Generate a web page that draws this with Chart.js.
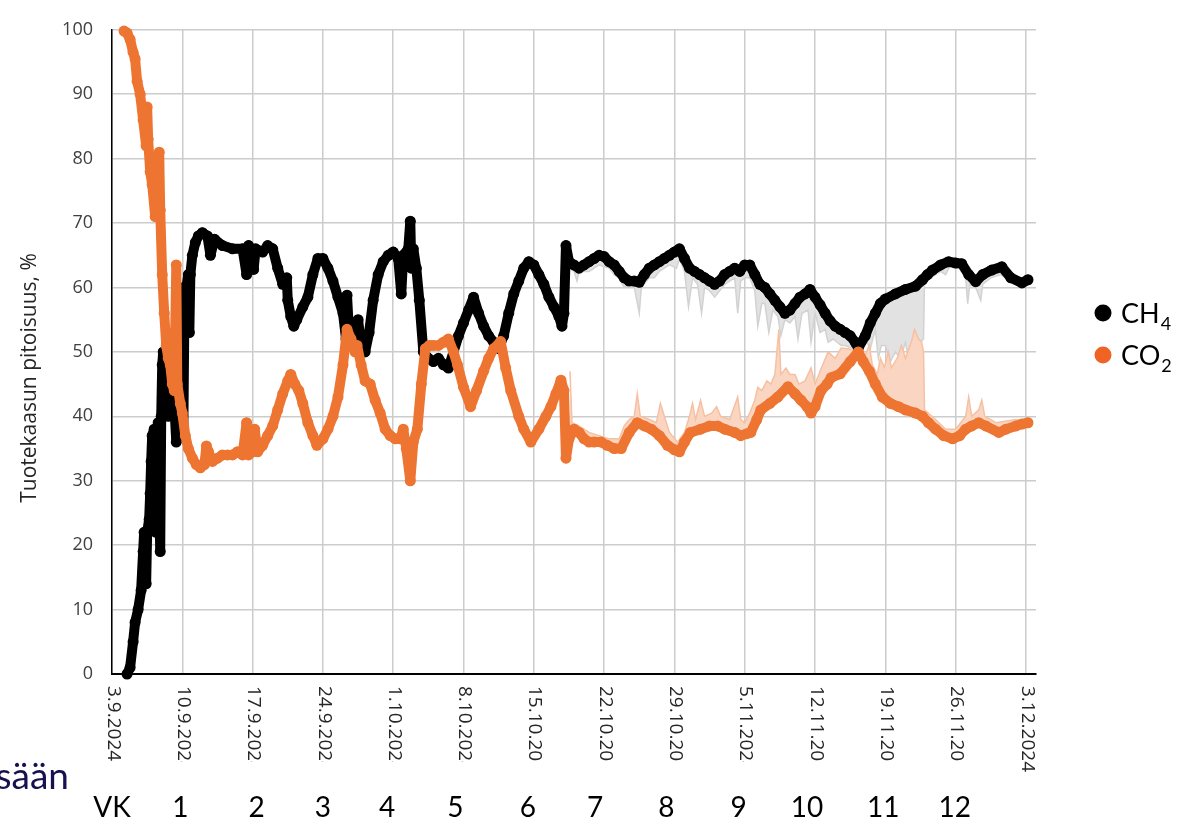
<!DOCTYPE html>
<html>
<head>
<meta charset="utf-8">
<script src="https://cdn.jsdelivr.net/npm/chart.js@4.4.1/dist/chart.umd.min.js"></script>
<style>
  html, body { margin: 0; padding: 0; background: #fff; }
  #wrap { width: 1186px; height: 820px; }
</style>
</head>
<body>
<div id="wrap"><canvas id="gasChart" width="1186" height="820"></canvas></div>
<script>
// days counted from 3.9.2024
const dateLabels = ['3.9.2024', '10.9.2024', '17.9.2024', '24.9.2024', '1.10.2024', '8.10.2024', '15.10.2024',
  '22.10.2024', '29.10.2024', '5.11.2024', '12.11.2024', '19.11.2024', '26.11.2024', '3.12.2024']
const weekLabels = ['1', '2', '3', '4', '5', '6', '7', '8', '9', '10', '11', '12']
const weekAt = [6.8, 14.4, 21.0, 27.4, 34.2, 41.4, 48.1, 55.2, 62.4, 69.2, 76.8, 83.9]

const ch4Day = [1.5, 1.8, 2.1, 2.3, 2.6, 2.9, 3.1, 3.2, 3.4, 3.5, 3.7, 3.8, 3.9, 4.0, 4.2, 4.4, 4.5, 4.6, 4.8, 4.9,
  5.0, 5.1, 5.2, 5.4, 5.6, 5.8, 6.0, 6.2, 6.4, 6.5, 6.7, 6.9, 7.0, 7.1, 7.2, 7.4, 7.6, 7.7, 7.8, 8.0,
  8.3, 8.6, 9.0, 9.5, 9.8, 10.2, 11, 12, 13, 13.4, 13.6, 14.1, 14.3, 15, 15.5, 16, 16.5, 17, 17.4, 17.5,
  17.8, 18.1, 18.4, 19, 19.5, 20, 20.5, 21, 21.5, 22, 22.5, 23, 23.3, 23.4, 23.6, 24, 24.2, 24.5, 24.8, 25.2,
  25.6, 26, 26.5, 27, 27.5, 28, 28.5, 28.8, 29, 29.5, 29.7, 29.8, 30, 30.3, 30.6, 31, 31.5, 32, 32.5, 33,
  33.5, 34, 34.5, 35, 35.5, 36, 36.5, 37, 37.5, 38, 38.5, 39, 39.5, 40, 40.5, 41, 41.5, 42, 42.5, 43,
  43.5, 44, 44.5, 44.8, 45, 45.2, 45.5, 46, 46.5, 47, 47.5, 48, 48.5, 49, 49.5, 50, 50.5, 51, 51.5, 52,
  52.5, 53, 53.5, 54, 54.5, 55, 55.5, 56, 56.5, 57, 57.5, 58, 58.5, 59, 59.5, 60, 60.5, 61, 61.5, 62,
  62.5, 63, 63.5, 64, 64.5, 65, 65.5, 66, 66.5, 67, 67.5, 68, 68.5, 69, 69.5, 70, 70.5, 71, 71.5, 72,
  72.5, 73, 73.5, 74, 74.3, 75, 75.5, 76, 76.5, 77, 78, 79, 80, 80.7, 81.2, 81.7, 82.5, 83.3, 84, 84.6,
  85.3, 86, 86.7, 87.6, 88.6, 89.5, 90.6, 91.2]
const ch4Val = [0, 1, 5, 8, 10, 13, 19, 22, 14, 22, 24, 28, 33, 37, 38, 22, 37, 39, 19, 40,
  48, 50, 41, 44, 40, 46, 50, 42, 36, 55, 60, 48, 39, 37, 55, 60, 62, 53, 62, 65,
  67, 68, 68.5, 68, 65, 67.5, 66.5, 66, 66, 62, 66.5, 62.8, 66, 65.5, 66.5, 66, 63, 60.5, 61.5, 58,
  55.5, 54, 55, 57, 58.5, 62, 64.5, 64.5, 63, 61, 58.5, 56, 52, 58.8, 53, 52, 51.7, 55, 51, 50,
  53, 58, 62, 64, 65, 65.5, 64.5, 59, 65, 66, 70.3, 63, 66, 63, 58, 50, 49, 48.5, 49, 48,
  47.5, 50, 52.5, 54.5, 56.5, 58.5, 56, 54, 52.5, 51.5, 50.5, 52.5, 56, 59, 61, 63, 64, 63.5, 62, 60.5,
  58.5, 57, 55.5, 54, 56, 66.5, 64, 63.5, 63, 63.5, 64, 64.5, 65, 64.8, 64, 63.5, 62.5, 61.5, 61, 61,
  60.8, 62, 63, 63.5, 64, 64.5, 65, 65.5, 66, 64.5, 63, 62.5, 62, 61.5, 61, 60.5, 61, 62, 62.5, 63,
  62.5, 63.5, 63.5, 62, 60.5, 60, 59, 58, 57, 56, 56.5, 57.5, 58.5, 59, 59.7, 58.5, 57.3, 56, 54.8, 54,
  53.5, 53, 52.5, 51.5, 50.6, 52.5, 54.5, 56, 57.5, 58.2, 59, 59.7, 60.2, 61.2, 62, 62.7, 63.5, 64, 63.8, 63.7,
  62, 60.9, 62, 62.7, 63.2, 61.5, 60.7, 61.2]

const co2Day = [1.2, 1.5, 1.8, 2.1, 2.3, 2.5, 2.8, 3.1, 3.4, 3.5, 3.6, 3.8, 4.0, 4.3, 4.5, 4.7, 4.8, 5.0, 5.2, 5.4,
  5.6, 5.8, 6.0, 6.2, 6.4, 6.5, 6.8, 7.0, 7.3, 7.6, 8.0, 8.4, 8.8, 9.2, 9.4, 9.6, 10, 10.5, 11, 11.5,
  12, 12.5, 13, 13.4, 13.6, 14, 14.2, 14.5, 15, 15.5, 16, 16.5, 17, 17.5, 17.8, 18.2, 18.6, 19, 19.5, 20,
  20.4, 21, 21.5, 22, 22.5, 23, 23.4, 23.8, 24.2, 24.4, 24.8, 25.2, 25.7, 26.2, 26.7, 27.2, 27.7, 28.2, 28.7, 29,
  29.3, 29.7, 30, 30.4, 30.8, 31.2, 31.6, 32, 32.5, 33, 33.5, 34, 34.4, 35, 35.7, 36.3, 37, 37.5, 38, 38.7,
  39.2, 39.7, 40.5, 41, 41.7, 42.5, 43.2, 43.7, 44.2, 44.7, 45.0, 45.2, 45.5, 46, 46.5, 47, 47.5, 48, 48.7, 49.3,
  50, 50.7, 51.5, 52.3, 53, 53.7, 54.5, 55.3, 56, 56.5, 57, 57.6, 58.6, 59.5, 60.3, 61, 62, 62.6, 63.2, 63.6,
  64.2, 64.6, 65.5, 66.3, 67.3, 68, 68.6, 69.2, 69.6, 70, 70.6, 71.2, 71.6, 72.5, 73.5, 74.3, 74.8, 75.4, 76, 76.7,
  77.5, 78.3, 79, 80, 80.7, 81.3, 82, 82.8, 83.7, 84.4, 85, 85.6, 86.3, 87, 88.3, 89, 90, 90.6, 91.2]
const co2Val = [99.8, 99.5, 98.5, 96.5, 95.5, 92, 90, 86, 82, 88, 83, 78, 76, 71, 78, 81, 72, 62, 56, 51,
  49, 48, 45, 44, 63.5, 45, 42, 40.5, 37, 35, 33.5, 32.5, 32, 32.5, 35.4, 34.5, 33, 33.5, 34, 34,
  34, 34.5, 34, 39, 34, 34.5, 38, 34.5, 35.5, 37, 38.5, 41, 43.5, 45.5, 46.5, 45, 44, 42, 39, 37,
  35.5, 36.5, 38, 40, 43, 48, 53.5, 52, 50, 51, 48, 45.5, 45, 42.5, 40.5, 38, 37, 36.5, 36.5, 38,
  35, 30, 36, 38, 45, 50.5, 51, 51, 51, 51.5, 52, 50, 48, 44.5, 41.5, 44, 47, 49, 50.5, 51.6,
  47.5, 44, 40, 38, 36, 38, 40, 41.5, 43.5, 45.6, 44, 33.5, 36.5, 38, 37.5, 36.5, 36, 36, 36, 35.5,
  35, 35, 37.5, 39, 38.5, 38, 37, 35.5, 34.8, 34.5, 36, 37.5, 38, 38.5, 38.5, 38, 37.5, 37, 37.3, 37.5,
  39.5, 41, 42, 43, 44.6, 43.5, 42.5, 41.5, 40.5, 41.5, 44, 45, 46, 46.6, 48.5, 50, 48.5, 47, 45, 43,
  42, 41.5, 41, 40.5, 40, 39, 38, 37, 36.5, 37, 38, 38.5, 39, 38.5, 37.5, 38, 38.5, 38.8, 39]

// lighter scatter of single readings below CH4 and above CO2
const ch4LowDay = [45.5, 46.0, 46.3, 46.5, 47.5, 48.5, 49.5, 50, 50.5, 51, 51.5, 52, 52.5, 52.7, 53.5, 54, 54.5, 55.5, 56.2, 56.5,
  57, 57.4, 57.8, 58.3, 58.7, 59, 59.5, 60, 60.5, 61, 61.5, 62, 62.3, 62.6, 63, 63.5, 64, 64.3, 64.7, 65,
  65.4, 65.8, 66.3, 66.6, 67, 67.5, 68, 68.3, 68.7, 69.3, 69.6, 70, 70.5, 71, 71.3, 71.8, 72.2, 72.6, 73, 73.6,
  74.3, 75, 75.5, 76, 76.3, 76.6, 77, 77.5, 78, 78.5, 79, 79.3, 79.7, 80, 80.5, 80.8, 80.9, 81.5, 82.5, 83,
  83.5, 84.5, 85, 85.2, 85.4, 86, 86.5, 86.7, 87.5, 88.5, 89.5, 91]
const ch4LowVal = [63, 62.5, 61, 62.5, 62.5, 63.5, 63, 62, 61.5, 60, 60.5, 60, 56, 60, 61.5, 61.5, 62.5, 63.5, 63, 64.5,
  62.5, 57, 61.5, 60.5, 56, 60, 59.5, 58.5, 59.5, 60.5, 61, 61.5, 56, 61, 61.5, 61.5, 59.5, 54, 57.5, 57.5,
  53, 56.5, 55.5, 52.5, 55, 54.5, 55.5, 52, 56, 56.5, 51.5, 56, 53, 53.5, 51.5, 52, 51.5, 51, 51, 50.6,
  50.6, 52, 50.5, 53.5, 49, 51, 51, 48.5, 50, 49, 51.5, 49, 52, 50, 51.5, 52, 61, 61.5, 62.5, 62,
  63.5, 63, 61.5, 57.5, 60.5, 60, 58, 60.5, 61.5, 62, 61, 60.5]

const co2HighDay = [45.6, 45.8, 46.5, 47.5, 48.5, 49.5, 50.5, 51, 51.5, 52, 52.3, 52.6, 53.5, 54.2, 54.6, 55.5, 56.3, 57, 57.5, 57.8,
  58.1, 58.6, 59, 59.7, 60.2, 60.6, 61.5, 62.3, 62.6, 63, 63.5, 64, 64.3, 64.7, 65.2, 65.6, 66, 66.4, 66.6, 67.1,
  67.5, 68, 68.4, 69, 69.6, 70, 70.5, 71.3, 72, 72.6, 73.3, 74.3, 75, 75.4, 75.7, 76.2, 76.5, 76.9, 77.3, 77.6,
  78.2, 78.6, 79, 79.6, 79.9, 80.3, 80.6, 80.8, 80.9, 82, 83, 84, 85, 85.3, 85.6, 86.3, 86.6, 86.9, 88, 90, 91]
const co2HighVal = [47, 39, 38.5, 37.5, 37, 36.5, 36.5, 38.5, 39.5, 40, 43.5, 40, 39.5, 39, 42, 37.5, 36, 37.5, 40, 42,
  39.5, 42.5, 40, 40.5, 41.5, 40, 39.5, 43, 39.5, 39, 40.5, 42.5, 44.5, 44, 45.5, 45, 46.5, 53.5, 46.5, 47.5,
  46.5, 46.5, 45, 45.5, 47.5, 45, 47, 50, 49, 50.6, 50.5, 50, 49.5, 51, 48, 46.5, 49, 47.6, 50, 47.5,
  49.1, 51, 49, 51.6, 53.5, 52, 51.6, 50, 41, 39.5, 38, 38, 40, 43, 40, 41, 42.5, 40, 39, 39.5, 39.2]

const pts = (days, vals) => days.map((d, i) => ({ x: d, y: vals[i] }))

const CH4_COLOR = '#000000'
const CO2_COLOR = '#EE7531'

const labelsPlugin = {
  id: 'gasLabels',
  afterDraw(chart) {
    const { ctx } = chart
    const xScale = chart.scales.x

    // date labels under the axis, turned clockwise, cut at a fixed length
    ctx.save()
    ctx.fillStyle = '#262626'
    ctx.font = '19px "Open Sans"'
    ctx.textAlign = 'left'
    ctx.textBaseline = 'middle'
    dateLabels.forEach((label, i) => {
      const px = xScale.getPixelForValue(i * 7)
      ctx.save()
      if (i > 0 && i < dateLabels.length - 1) {
        ctx.beginPath()
        ctx.rect(px - 15, 676, 30, 86)
        ctx.clip()
      }
      ctx.translate(px + 1, 686)
      ctx.rotate(Math.PI / 2)
      ctx.fillText(label, 0, 0)
      ctx.restore()
    })
    ctx.restore()

    // axis title
    ctx.save()
    ctx.fillStyle = '#262626'
    ctx.font = '21px "Open Sans"'
    ctx.textAlign = 'center'
    ctx.textBaseline = 'middle'
    ctx.translate(30, 378)
    ctx.rotate(-Math.PI / 2)
    ctx.fillText('Tuotekaasun pitoisuus, %', 0, 0)
    ctx.restore()

    // legend with subscripts
    ctx.save()
    const legendRows = [
      { main: 'CH', sub: '4', color: chart.data.datasets[0].borderColor, y: 323 },
      { main: 'CO', sub: '2', color: '#EF6424', y: 365 }
    ]
    legendRows.forEach(row => {
      ctx.fillStyle = row.color
      ctx.beginPath()
      ctx.arc(1103, row.y - 10, 8.5, 0, Math.PI * 2)
      ctx.fill()
      ctx.fillStyle = '#000'
      ctx.textAlign = 'left'
      ctx.textBaseline = 'alphabetic'
      ctx.font = '27px Lato'
      ctx.fillText(row.main, 1121, row.y)
      const w = ctx.measureText(row.main).width
      ctx.font = '18px Lato'
      ctx.fillText(row.sub, 1121 + w + 1, row.y + 7)
    })
    ctx.restore()

    // week numbers
    ctx.save()
    ctx.fillStyle = '#000'
    ctx.font = '28px Lato'
    ctx.textAlign = 'center'
    ctx.textBaseline = 'alphabetic'
    ctx.fillText('VK', xScale.getPixelForValue(0), 817)
    weekLabels.forEach((w, i) => {
      ctx.fillText(w, xScale.getPixelForValue(weekAt[i]), 817)
    })
    ctx.restore()

    ctx.save()
    ctx.fillStyle = '#16124f'
    ctx.font = '37px Lato'
    ctx.textAlign = 'right'
    ctx.textBaseline = 'alphabetic'
    ctx.fillText('sään', 69, 789)
    ctx.restore()
  }
}

const mainLine = (label, days, vals, color, order) => ({
  label,
  data: pts(days, vals),
  borderColor: color,
  backgroundColor: color,
  borderWidth: 10,
  pointRadius: 5.5,
  pointBorderWidth: 0,
  borderJoinStyle: 'round',
  borderCapStyle: 'round',
  order,
  clip: 10
})

function draw() {
  new Chart(document.getElementById('gasChart'), {
    type: 'line',
    data: {
      datasets: [
        mainLine('CH4', ch4Day, ch4Val, CH4_COLOR, 1),
        mainLine('CO2', co2Day, co2Val, CO2_COLOR, 0),
        {
          label: 'CH4 single',
          data: pts(ch4LowDay, ch4LowVal),
          borderColor: '#d2d2d2',
          backgroundColor: '#e2e2e2',
          borderWidth: 1.5,
          pointRadius: 0,
          fill: 0,
          order: 3
        },
        {
          label: 'CO2 single',
          data: pts(co2HighDay, co2HighVal),
          borderColor: '#f6c0a2',
          backgroundColor: '#fad6c2',
          borderWidth: 1.5,
          pointRadius: 0,
          fill: 1,
          order: 2
        }
      ]
    },
    options: {
      responsive: false,
      animation: false,
      layout: { padding: { left: 0, top: 14, right: 150, bottom: 0 } },
      plugins: {
        legend: { display: false },
        tooltip: { enabled: false }
      },
      scales: {
        x: {
          type: 'linear',
          min: 0,
          max: 92,
          ticks: { display: false, stepSize: 7, includeBounds: false },
          grid: { color: '#cccccc', lineWidth: 1.5, drawTicks: false },
          border: { color: '#000', width: 2 },
          afterFit: (scale) => { scale.height = 146 }
        },
        y: {
          min: 0,
          max: 100,
          ticks: {
            stepSize: 10,
            padding: 19,
            color: '#404040',
            font: { family: 'Open Sans', size: 18 }
          },
          grid: { color: '#cccccc', lineWidth: 1.5, drawTicks: false },
          border: { color: '#000', width: 1.5 },
          afterFit: (scale) => { scale.width = 112 }
        }
      }
    },
    plugins: [labelsPlugin]
  })
}

Promise.all([
  document.fonts.load('18px "Open Sans"'),
  document.fonts.load('28px Lato')
]).then(draw, draw)
</script>
</body>
</html>
